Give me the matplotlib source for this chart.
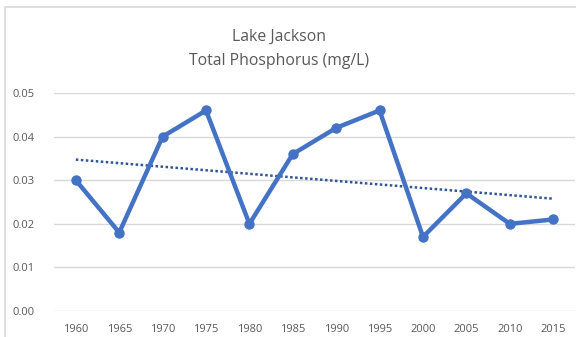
import numpy as np
import matplotlib
matplotlib.use('Agg')
import matplotlib.pyplot as plt
from matplotlib.patches import Rectangle

years = ['1960', '1965', '1970', '1975', '1980', '1985', '1990', '1995', '2000', '2005', '2010', '2015']
phosphorus = [0.030, 0.018, 0.040, 0.046, 0.020, 0.036, 0.042, 0.046, 0.017, 0.027, 0.020, 0.021]
yticks = [0.00, 0.01, 0.02, 0.03, 0.04, 0.05]

plt.rcParams['font.family'] = ['Open Sans', 'DejaVu Sans']

fig = plt.figure(figsize=(5.76, 3.37), dpi=100)
# light chart-area frame
fig.patches.append(Rectangle((5/576, -0.1), 1.2, 1.1 - 7/337, transform=fig.transFigure,
                             fill=False, edgecolor='#d9d9d9', linewidth=1.2))
ax = fig.add_axes([0.094, 0.077, 0.904, 0.647])

x = np.arange(len(years))
ax.plot(x, phosphorus, color='#4472C4', linewidth=3.2, marker='o', markersize=6.5, zorder=3)

# linear trend line
coef = np.polyfit(x, phosphorus, 1)
trend = np.poly1d(coef)
ax.plot(x, trend(x), color='#2F5597', linestyle=(0, (1, 1)), linewidth=1.8, zorder=2)

ax.set_xlim(-0.5, len(years) - 0.5)
ax.set_ylim(0, 0.05)
ax.set_yticks(yticks)
ax.set_yticklabels(['%.2f' % v for v in yticks])
ax.set_xticks(x)
ax.set_xticklabels(years)
ax.grid(axis='y', color='#d9d9d9', linewidth=1)
ax.set_axisbelow(True)
for s in ax.spines.values():
    s.set_visible(False)
ax.tick_params(length=0, labelsize=8, colors='#595959')
ax.tick_params(axis='y', pad=14)
ax.tick_params(axis='x', pad=9)

fig.text(0.484, 0.89, 'Lake Jackson', ha='center', va='center', fontsize=11.3, color='#595959')
fig.text(0.484, 0.82, 'Total Phosphorus (mg/L)', ha='center', va='center', fontsize=11.3, color='#595959')

fig.savefig('out.png', dpi=100)
